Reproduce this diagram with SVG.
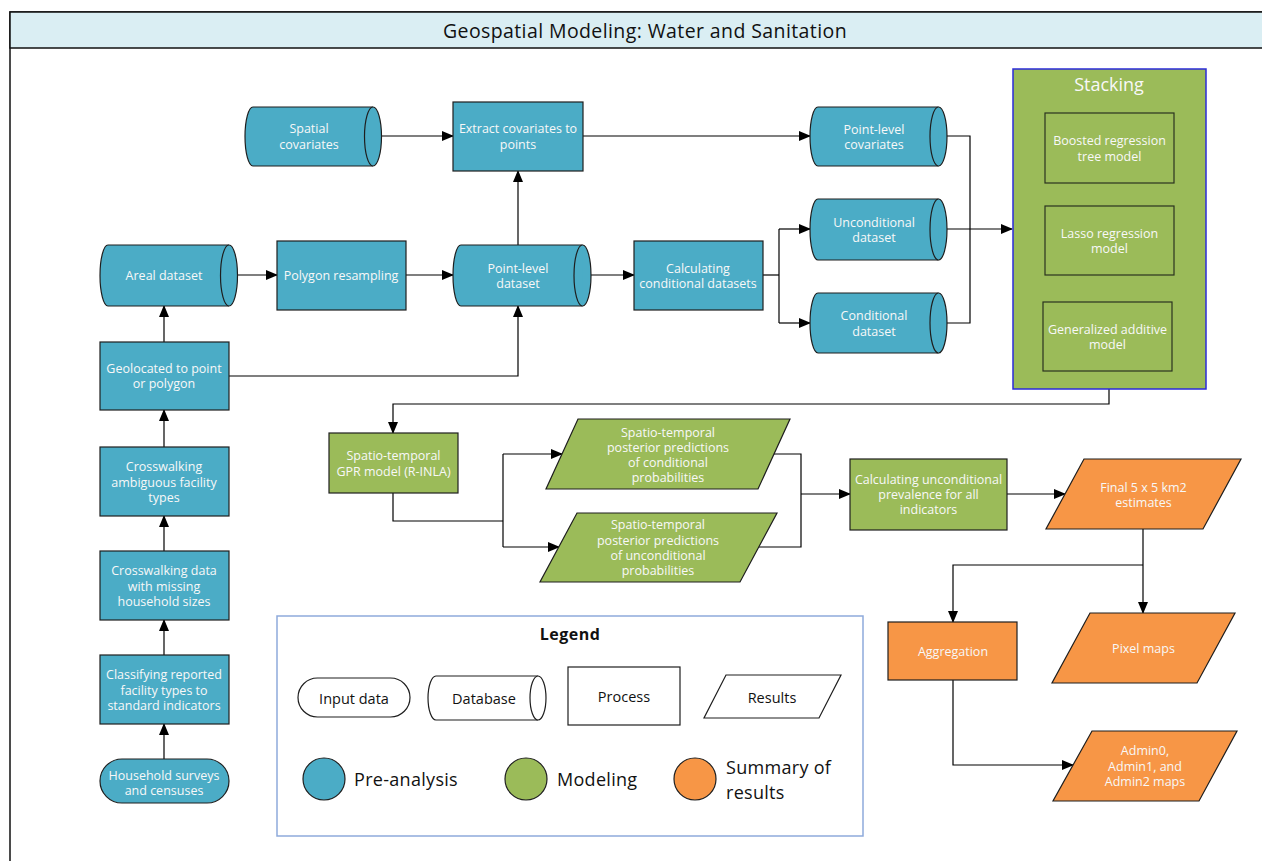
<svg xmlns="http://www.w3.org/2000/svg" width="1262" height="861" viewBox="0 0 1262 861">
<defs>
<marker id="ah" markerWidth="12" markerHeight="10" refX="11" refY="5" orient="auto" markerUnits="userSpaceOnUse">
<path d="M0,0 L12,5 L0,10 Z" fill="#000"/>
</marker>
<style>
.blue{fill:#4BACC6;stroke:#1e1e1e;stroke-width:1.2}
.green{fill:#9BBB59;stroke:#1e1e1e;stroke-width:1.2}
.orange{fill:#F79646;stroke:#1e1e1e;stroke-width:1.2}
.white{fill:#fff;stroke:#1e1e1e;stroke-width:1.2}
.inner{fill:#9BBB59;stroke:#2a3320;stroke-width:1.2}
.t{font-family:"Open Sans","Noto Sans",sans-serif;font-size:12.5px;fill:#F8F8F8;text-anchor:middle;dominant-baseline:central}
.lt{font-family:"Open Sans","Noto Sans",sans-serif;font-size:14.5px;fill:#111;text-anchor:middle;dominant-baseline:central}
.lg{font-family:"Open Sans","Noto Sans",sans-serif;font-size:18px;fill:#111;dominant-baseline:central;letter-spacing:0.3px}
.c{fill:none;stroke:#000;stroke-width:1.2}
.ca{fill:none;stroke:#000;stroke-width:1.2;marker-end:url(#ah)}
</style>
</defs>
<rect width="1262" height="861" fill="#fff"/>
<g id="frame">
<rect x="10" y="12" width="1270" height="870" fill="#fff" stroke="#111" stroke-width="1.5"/>
<rect x="10" y="12" width="1270" height="36" fill="#DAEEF3" stroke="#111" stroke-width="1.5"/>
<text x="645" y="30" style="font-family:'Open Sans','Noto Sans',sans-serif;font-size:19.5px;fill:#111;text-anchor:middle;dominant-baseline:central;letter-spacing:0.4px">Geospatial Modeling: Water and Sanitation</text>
</g>

<g id="connectors">
<path class="ca" d="M382,136 L453,136"/>
<path class="ca" d="M583,136 L810,136"/>
<path class="ca" d="M237,275 L277,275"/>
<path class="ca" d="M406,275 L453,275"/>
<path class="ca" d="M518,245 L518,171"/>
<path class="ca" d="M229,376 L518,376 L518,306"/>
<path class="ca" d="M164,342 L164,306"/>
<path class="ca" d="M591,275 L634,275"/>
<path class="c" d="M763,275 L779,275"/>
<path class="c" d="M779,229 L779,323"/>
<path class="ca" d="M779,229 L810,229"/>
<path class="ca" d="M779,323 L810,323"/>
<path class="c" d="M947,136 L970,136 L970,323 L947,323"/>
<path class="ca" d="M947,229 L1012,229"/>
<path class="ca" d="M1109,389 L1109,404 L393,404 L393,433"/>
<path class="c" d="M393,493 L393,521 L503,521"/>
<path class="c" d="M503,454 L503,547"/>
<path class="ca" d="M503,454 L562,454"/>
<path class="ca" d="M503,547 L559,547"/>
<path class="c" d="M774,454 L801,454 L801,547 L759,547"/>
<path class="ca" d="M801,494 L850,494"/>
<path class="ca" d="M1007,494 L1065,494"/>
<path class="ca" d="M1143,529 L1143,613"/>
<path class="ca" d="M1143,565 L953,565 L953,622"/>
<path class="ca" d="M953,680 L953,765 L1073,765"/>
<path class="ca" d="M164,759 L164,724"/>
<path class="ca" d="M164,655 L164,620"/>
<path class="ca" d="M164,551 L164,516"/>
<path class="ca" d="M164,447 L164,410"/>
</g>

<g id="spatial-covariates">
<path class="blue" d="M253,107 L373,107 A8.5,29.5 0 0 1 373,166 L253,166 A8,29.5 0 0 1 253,107 Z"/>
<path class="blue" d="M373,107 A8.5,29.5 0 0 0 373,166"/>
<text class="t" x="309"><tspan x="309" y="128">Spatial</tspan><tspan x="309" y="144">covariates</tspan></text>
</g>

<g id="extract-covariates">
<rect class="blue" x="453" y="102" width="130" height="69"/>
<text class="t"><tspan x="518" y="128">Extract covariates to</tspan><tspan x="518" y="144">points</tspan></text>
</g>

<g id="point-level-covariates">
<path class="blue" d="M818,107 L938.5,107 A8.5,29.5 0 0 1 938.5,166 L818,166 A8,29.5 0 0 1 818,107 Z"/>
<path class="blue" d="M938.5,107 A8.5,29.5 0 0 0 938.5,166"/>
<text class="t"><tspan x="874" y="129">Point-level</tspan><tspan x="874" y="144">covariates</tspan></text>
</g>

<g id="unconditional-dataset">
<path class="blue" d="M818,199 L938.5,199 A8.5,30.5 0 0 1 938.5,260 L818,260 A8,30.5 0 0 1 818,199 Z"/>
<path class="blue" d="M938.5,199 A8.5,30.5 0 0 0 938.5,260"/>
<text class="t"><tspan x="874" y="222">Unconditional</tspan><tspan x="874" y="237">dataset</tspan></text>
</g>

<g id="conditional-dataset">
<path class="blue" d="M818,293 L938.5,293 A8.5,30 0 0 1 938.5,353 L818,353 A8,30 0 0 1 818,293 Z"/>
<path class="blue" d="M938.5,293 A8.5,30 0 0 0 938.5,353"/>
<text class="t"><tspan x="874" y="315">Conditional</tspan><tspan x="874" y="331">dataset</tspan></text>
</g>

<g id="areal-dataset">
<path class="blue" d="M108,245 L229,245 A8.5,30.5 0 0 1 229,306 L108,306 A8,30.5 0 0 1 108,245 Z"/>
<path class="blue" d="M229,245 A8.5,30.5 0 0 0 229,306"/>
<text class="t" x="164" y="275">Areal dataset</text>
</g>

<g id="polygon-resampling">
<rect class="blue" x="277" y="241" width="129" height="69"/>
<text class="t" x="341" y="275">Polygon resampling</text>
</g>

<g id="point-level-dataset">
<path class="blue" d="M461,245 L582.5,245 A8.5,30.5 0 0 1 582.5,306 L461,306 A8,30.5 0 0 1 461,245 Z"/>
<path class="blue" d="M582.5,245 A8.5,30.5 0 0 0 582.5,306"/>
<text class="t"><tspan x="518" y="268">Point-level</tspan><tspan x="518" y="283">dataset</tspan></text>
</g>

<g id="calculating-conditional">
<rect class="blue" x="634" y="241" width="129" height="69"/>
<text class="t"><tspan x="698" y="268">Calculating</tspan><tspan x="698" y="283">conditional datasets</tspan></text>
</g>

<g id="geolocated">
<rect class="blue" x="100" y="342" width="129" height="68"/>
<text class="t"><tspan x="164" y="368">Geolocated to point</tspan><tspan x="164" y="383">or polygon</tspan></text>
</g>

<g id="crosswalking-ambiguous">
<rect class="blue" x="100" y="447" width="129" height="69"/>
<text class="t"><tspan x="164" y="466">Crosswalking</tspan><tspan x="164" y="481.5">ambiguous facility</tspan><tspan x="164" y="497">types</tspan></text>
</g>

<g id="crosswalking-data">
<rect class="blue" x="100" y="551" width="129" height="69"/>
<text class="t"><tspan x="164" y="570">Crosswalking data</tspan><tspan x="164" y="585.5">with missing</tspan><tspan x="164" y="601">household sizes</tspan></text>
</g>

<g id="classifying">
<rect class="blue" x="100" y="655" width="129" height="69"/>
<text class="t"><tspan x="164" y="674">Classifying reported</tspan><tspan x="164" y="689.5">facility types to</tspan><tspan x="164" y="705">standard indicators</tspan></text>
</g>

<g id="household-surveys">
<rect class="blue" x="100" y="759" width="129" height="44" rx="22" ry="22"/>
<text class="t"><tspan x="164" y="775">Household surveys</tspan><tspan x="164" y="790">and censuses</tspan></text>
</g>

<g id="stacking">
<rect x="1013" y="69" width="193" height="320" fill="#9BBB59" stroke="#2b2bd9" stroke-width="1.5"/>
<text x="1109" y="84" style="font-family:'Open Sans','Noto Sans',sans-serif;font-size:18px;fill:#F8F8F8;text-anchor:middle;dominant-baseline:central">Stacking</text>
</g>

<g id="boosted-regression">
<rect class="inner" x="1045" y="113" width="129" height="70"/>
<text class="t"><tspan x="1109.5" y="140">Boosted regression</tspan><tspan x="1109.5" y="156">tree model</tspan></text>
</g>

<g id="lasso-regression">
<rect class="inner" x="1045" y="206" width="129" height="69"/>
<text class="t"><tspan x="1109.5" y="233">Lasso regression</tspan><tspan x="1109.5" y="248">model</tspan></text>
</g>

<g id="generalized-additive">
<rect class="inner" x="1043" y="302" width="129" height="69"/>
<text class="t"><tspan x="1107.5" y="329">Generalized additive</tspan><tspan x="1107.5" y="344">model</tspan></text>
</g>

<g id="gpr-model">
<rect class="green" x="329" y="433" width="129" height="60"/>
<text class="t"><tspan x="393.5" y="455">Spatio-temporal</tspan><tspan x="393.5" y="471">GPR model (R-INLA)</tspan></text>
</g>

<g id="posterior-conditional">
<polygon class="green" points="578,419 790,419 758,489 546,489"/>
<text class="t"><tspan x="668" y="431.5">Spatio-temporal</tspan><tspan x="668" y="447">posterior predictions</tspan><tspan x="668" y="462">of conditional</tspan><tspan x="668" y="477">probabilities</tspan></text>
</g>

<g id="posterior-unconditional">
<polygon class="green" points="577,513 777,513 740,582 540,582"/>
<text class="t"><tspan x="658" y="524">Spatio-temporal</tspan><tspan x="658" y="539.5">posterior predictions</tspan><tspan x="658" y="555">of unconditional</tspan><tspan x="658" y="570">probabilities</tspan></text>
</g>

<g id="calculating-unconditional">
<rect class="green" x="850" y="459" width="157" height="71"/>
<text class="t"><tspan x="928.5" y="479">Calculating unconditional</tspan><tspan x="928.5" y="494">prevalence for all</tspan><tspan x="928.5" y="509">indicators</tspan></text>
</g>

<g id="final-estimates">
<polygon class="orange" points="1084,459 1241,459 1203,529 1046,529"/>
<text class="t"><tspan x="1143.5" y="487">Final 5 x 5 km2</tspan><tspan x="1143.5" y="502">estimates</tspan></text>
</g>

<g id="aggregation">
<rect class="orange" x="888" y="622" width="129" height="58"/>
<text class="t" x="953" y="651">Aggregation</text>
</g>

<g id="pixel-maps">
<polygon class="orange" points="1090,613 1235,613 1197,683 1052,683"/>
<text class="t" x="1143.5" y="648">Pixel maps</text>
</g>

<g id="admin-maps">
<polygon class="orange" points="1092,731 1237,731 1199,801 1053,801"/>
<text class="t"><tspan x="1145" y="750">Admin0,</tspan><tspan x="1145" y="766">Admin1, and</tspan><tspan x="1145" y="781">Admin2 maps</tspan></text>
</g>

<g id="legend">
<rect x="277" y="616" width="586" height="220" fill="#fff" stroke="#8EAADB" stroke-width="1.5"/>
<text x="570" y="634" style="font-family:'Open Sans','Noto Sans',sans-serif;font-size:16px;font-weight:bold;fill:#111;text-anchor:middle;dominant-baseline:central;letter-spacing:0.5px">Legend</text>
<rect class="white" x="298" y="678" width="112" height="39" rx="19.5" ry="19.5"/>
<text class="lt" x="354" y="698">Input data</text>
<path class="white" d="M436,676 L538,676 A8,22 0 0 1 538,720 L436,720 A8,22 0 0 1 436,676 Z"/>
<path class="white" d="M538,676 A8,22 0 0 0 538,720"/>
<text class="lt" x="484" y="698">Database</text>
<rect class="white" x="568" y="667" width="112" height="58"/>
<text class="lt" x="624" y="696">Process</text>
<polygon class="white" points="726,675 841,675 819,718 704,718"/>
<text class="lt" x="772" y="697">Results</text>
<circle cx="324" cy="779" r="21" fill="#4BACC6" stroke="#1e1e1e" stroke-width="1.2"/>
<text class="lg" x="354" y="779">Pre-analysis</text>
<circle cx="526" cy="779" r="21" fill="#9BBB59" stroke="#1e1e1e" stroke-width="1.2"/>
<text class="lg" x="557" y="779">Modeling</text>
<circle cx="695" cy="779" r="21" fill="#F79646" stroke="#1e1e1e" stroke-width="1.2"/>
<text class="lg"><tspan x="726" y="767">Summary of</tspan><tspan x="726" y="792">results</tspan></text>
</g>
</svg>
